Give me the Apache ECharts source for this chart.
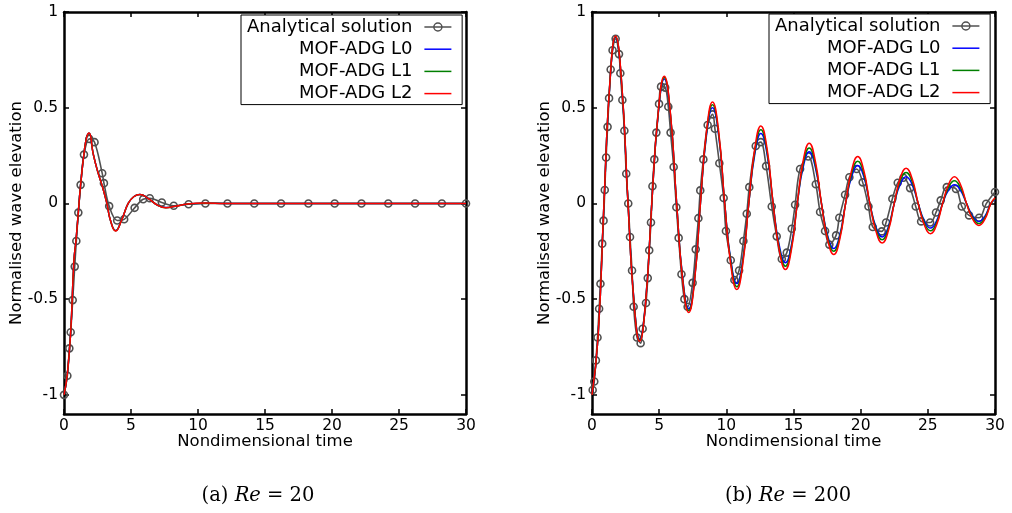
<!DOCTYPE html>
<html><head><meta charset="utf-8">
<script src="https://cdn.jsdelivr.net/npm/echarts@6/dist/echarts.min.js"></script>
<style>html,body{margin:0;padding:0;background:#fff;}#c{width:1012px;height:513px;}</style>
</head><body><div id="c"></div>
<script>
// ---------- data ----------
const seriesNames = ['Analytical solution', 'MOF-ADG L0', 'MOF-ADG L1', 'MOF-ADG L2'];
const xTickValues = [0, 5, 10, 15, 20, 25, 30];
const yTickValues = [-1, -0.5, 0, 0.5, 1];
const captions = [['(a) ', 'Re', ' = 20'], ['(b) ', 'Re', ' = 200']];

// Re = 20
const timeRe20Analytical = [0, 0.25, 0.40, 0.50, 0.65, 0.80, 0.92, 1.07, 1.24, 1.49, 1.89, 2.28, 2.85, 2.98, 3.37, 3.97, 4.49, 5.27, 5.91, 6.40, 7.3, 8.19, 9.3, 10.55, 12.2, 14.2, 16.2, 18.24, 20.2, 22.2, 24.2, 26.2, 28.2, 30];
const valRe20Analytical = [-1.0, -0.90, -0.757, -0.673, -0.505, -0.33, -0.196, -0.048, 0.097, 0.255, 0.337, 0.32, 0.158, 0.106, -0.014, -0.089, -0.083, -0.023, 0.022, 0.027, 0.005, -0.012, -0.004, 0, 0, 0, 0, 0, 0, 0, 0, 0, 0, 0];
const timeRe20Mof = [0, 0.25, 0.5, 0.74, 0.89, 1.02, 1.12, 1.24, 1.49, 1.69, 1.87, 2.18, 2.5, 2.88, 3.2, 3.47, 3.85, 4.29, 4.79, 5.2, 5.66, 6.3, 7.0, 7.6, 8.3, 9.2, 10.5, 12, 15, 20, 25, 30];
const valRe20L0 = [-1.0, -0.89, -0.67, -0.30, -0.196, -0.089, 0.0, 0.097, 0.259, 0.345, 0.366, 0.259, 0.17, 0.085, 0.0, -0.089, -0.142, -0.088, 0.0, 0.035, 0.046, 0.025, -0.01, -0.021, -0.015, -0.003, 0.001, 0, 0, 0, 0, 0];
const valRe20L1 = [-1.0, -0.89, -0.67, -0.30, -0.196, -0.089, 0.0, 0.097, 0.259, 0.345, 0.367, 0.259, 0.17, 0.085, 0.0, -0.089, -0.143, -0.089, 0.0, 0.035, 0.047, 0.025, -0.01, -0.022, -0.015, -0.003, 0.001, 0, 0, 0, 0, 0];
const valRe20L2 = [-1.0, -0.89, -0.67, -0.30, -0.196, -0.089, 0.0, 0.097, 0.259, 0.345, 0.368, 0.259, 0.17, 0.085, 0.0, -0.089, -0.144, -0.089, 0.0, 0.035, 0.047, 0.025, -0.01, -0.022, -0.015, -0.003, 0.002, 0, 0, 0, 0, 0];

// Re = 200
const timeRe200Analytical = [0.05, 0.17, 0.29, 0.41, 0.53, 0.63, 0.76, 0.86, 0.95, 1.05, 1.16, 1.27, 1.39, 1.53, 1.76, 2.01, 2.11, 2.26, 2.41, 2.55, 2.70, 2.83, 2.98, 3.10, 3.35, 3.62, 3.77, 4.02, 4.15, 4.26, 4.39, 4.50, 4.64, 4.79, 4.99, 5.14, 5.45, 5.68, 5.85, 6.08, 6.28, 6.45, 6.66, 6.88, 7.12, 7.49, 7.72, 7.92, 8.06, 8.29, 8.61, 8.98, 9.15, 9.48, 9.80, 9.97, 10.33, 10.6, 10.95, 11.27, 11.52, 11.71, 12.19, 12.56, 12.96, 13.38, 13.75, 14.13, 14.5, 14.87, 15.12, 15.49, 16.1, 16.66, 16.98, 17.35, 17.67, 18.17, 18.41, 18.84, 19.16, 19.7, 20.15, 20.58, 20.9, 21.57, 21.89, 22.36, 22.76, 23.18, 23.68, 24.1, 24.5, 25.17, 25.61, 25.96, 26.41, 27.1, 27.53, 28.07, 28.82, 29.34, 30.0];
const valRe200Analytical = [-0.975, -0.93, -0.82, -0.70, -0.55, -0.42, -0.21, -0.09, 0.07, 0.24, 0.40, 0.55, 0.70, 0.80, 0.86, 0.78, 0.68, 0.54, 0.38, 0.155, 0.0, -0.175, -0.35, -0.54, -0.70, -0.73, -0.655, -0.52, -0.39, -0.245, -0.10, 0.09, 0.23, 0.37, 0.52, 0.61, 0.605, 0.505, 0.37, 0.19, -0.02, -0.18, -0.37, -0.50, -0.54, -0.415, -0.24, -0.077, 0.068, 0.23, 0.41, 0.465, 0.39, 0.21, 0.028, -0.144, -0.297, -0.40, -0.35, -0.196, -0.054, 0.085, 0.30, 0.32, 0.195, -0.016, -0.172, -0.29, -0.257, -0.132, -0.007, 0.18, 0.245, 0.10, -0.045, -0.144, -0.215, -0.167, -0.075, 0.045, 0.137, 0.18, 0.11, -0.016, -0.123, -0.146, -0.10, 0.024, 0.108, 0.134, 0.08, -0.016, -0.094, -0.10, -0.047, 0.016, 0.085, 0.076, -0.016, -0.0625, -0.075, -0.002, 0.06];
const timeRe200Mof = [0, 0.45, 0.89, 1.32, 1.75, 2.22, 2.68, 3.12, 3.55, 4.0, 4.45, 4.92, 5.38, 5.84, 6.3, 6.75, 7.2, 7.64, 8.07, 8.52, 8.97, 9.43, 9.88, 10.33, 10.78, 11.22, 11.67, 12.12, 12.57, 13.03, 13.48, 13.94, 14.4, 14.84, 15.28, 15.72, 16.17, 16.62, 17.08, 17.54, 18.0, 18.44, 18.88, 19.33, 19.78, 20.23, 20.68, 21.14, 21.6, 22.05, 22.5, 22.94, 23.38, 23.83, 24.28, 24.74, 25.2, 25.65, 26.1, 26.54, 26.98, 27.43, 27.88, 28.34, 28.8, 29.25, 29.7, 30];
const valRe200L0 = [-1.0, -0.70, 0, 0.615, 0.868, 0.612, 0, -0.502, -0.71, -0.502, 0, 0.46, 0.65, 0.46, 0, -0.389, -0.55, -0.389, 0, 0.354, 0.50, 0.354, 0, -0.296, -0.418, -0.296, 0, 0.258, 0.365, 0.258, 0, -0.219, -0.31, -0.219, 0, 0.19, 0.27, 0.19, 0, -0.167, -0.236, -0.167, 0, 0.14, 0.198, 0.14, 0, -0.124, -0.175, -0.124, 0, 0.099, 0.14, 0.099, 0, -0.091, -0.129, -0.091, 0, 0.069, 0.097, 0.069, 0, -0.066, -0.094, -0.066, 0, 0.02];
const valRe200L1 = [-1.0, -0.70, 0, 0.618, 0.872, 0.615, 0, -0.505, -0.715, -0.505, 0, 0.465, 0.658, 0.465, 0, -0.395, -0.56, -0.395, 0, 0.364, 0.515, 0.364, 0, -0.307, -0.435, -0.307, 0, 0.272, 0.385, 0.272, 0, -0.232, -0.328, -0.232, 0, 0.205, 0.29, 0.205, 0, -0.177, -0.25, -0.177, 0, 0.156, 0.22, 0.156, 0, -0.134, -0.19, -0.134, 0, 0.115, 0.162, 0.115, 0, -0.101, -0.143, -0.101, 0, 0.083, 0.118, 0.083, 0, -0.074, -0.105, -0.074, 0, 0.025];
const valRe200L2 = [-1.0, -0.70, 0, 0.62, 0.875, 0.62, 0, -0.51, -0.72, -0.51, 0, 0.47, 0.665, 0.47, 0, -0.40, -0.57, -0.40, 0, 0.375, 0.53, 0.375, 0, -0.32, -0.45, -0.32, 0, 0.287, 0.405, 0.287, 0, -0.244, -0.345, -0.244, 0, 0.223, 0.315, 0.223, 0, -0.189, -0.267, -0.189, 0, 0.173, 0.245, 0.173, 0, -0.146, -0.207, -0.146, 0, 0.13, 0.184, 0.13, 0, -0.112, -0.158, -0.112, 0, 0.099, 0.14, 0.099, 0, -0.082, -0.115, -0.082, 0, 0.03];

// ---------- chart ----------
const FONT = 'DejaVu Sans';
const SERIF = 'DejaVu Serif';
const zip = (t, v) => t.map((x, i) => [x, v[i]]);
const colors = ['#505050', '#0000ff', '#007f00', '#ff0000'];
const grids = [
  { left: 64, top: 12, width: 402, height: 402 },
  { left: 592, top: 12, width: 403, height: 402 }
];
const legendPos = [{ left: 241, top: 15 }, { left: 769, top: 14 }];
const captionX = [258, 788];

const axisLine = { show: true, onZero: false, lineStyle: { color: '#000', width: 2.5 } };
const axisTick = { show: true, inside: true, length: 5, lineStyle: { color: '#000', width: 1.5 } };
const labelStyle = { color: '#000', fontFamily: FONT, fontSize: 15.5 };
const nameStyle = { color: '#000', fontFamily: FONT, fontSize: 16.5 };

const xAxis = [], yAxis = [], series = [], legend = [], graphic = [];
const datasets = [
  { ta: timeRe20Analytical, va: valRe20Analytical, tm: timeRe20Mof, vm: [valRe20L0, valRe20L1, valRe20L2] },
  { ta: timeRe200Analytical, va: valRe200Analytical, tm: timeRe200Mof, vm: [valRe200L0, valRe200L1, valRe200L2] }
];

grids.forEach((g, gi) => {
  xAxis.push({
    type: 'value', gridIndex: gi, position: 'bottom', min: 0, max: 30, interval: 5,
    axisLine, axisTick: Object.assign({}, axisTick),
    axisLabel: Object.assign({ margin: 4 }, labelStyle),
    splitLine: { show: false },
    name: 'Nondimensional time', nameLocation: 'middle', nameGap: 19, nameMoveOverlap: false, nameTextStyle: nameStyle
  });
  xAxis.push({
    type: 'value', gridIndex: gi, position: 'top', min: 0, max: 30, interval: 5,
    axisLine, axisTick: Object.assign({}, axisTick), axisLabel: { show: false }, splitLine: { show: false }
  });
  yAxis.push({
    type: 'value', gridIndex: gi, position: 'left', min: -1.1, max: 1,
    axisLine,
    axisTick: Object.assign({ customValues: yTickValues }, axisTick),
    axisLabel: Object.assign({ margin: 6, customValues: yTickValues }, labelStyle),
    splitLine: { show: false },
    name: 'Normalised wave elevation', nameLocation: 'middle', nameGap: 39, nameMoveOverlap: false, nameRotate: 90, nameTextStyle: nameStyle
  });
  yAxis.push({
    type: 'value', gridIndex: gi, position: 'right', min: -1.1, max: 1,
    axisLine,
    axisTick: Object.assign({ customValues: yTickValues }, axisTick),
    axisLabel: { show: false }, splitLine: { show: false }
  });
  const d = datasets[gi];
  series.push({
    name: seriesNames[0], type: 'line', xAxisIndex: gi * 2, yAxisIndex: gi * 2,
    data: zip(d.ta, d.va), smooth: 0.35, symbol: 'circle', symbolSize: 7, showSymbol: true,
    lineStyle: { color: colors[0], width: 1.6 },
    itemStyle: { color: 'rgba(0,0,0,0)', borderColor: colors[0], borderWidth: 1.6 },
    emphasis: { disabled: true }, z: 2
  });
  for (let k = 0; k < 3; k++) {
    series.push({
      name: seriesNames[k + 1], type: 'line', xAxisIndex: gi * 2, yAxisIndex: gi * 2,
      data: zip(d.tm, d.vm[k]), smooth: 0.5, symbol: 'none',
      lineStyle: { color: colors[k + 1], width: 1.5 },
      itemStyle: { color: colors[k + 1] },
      emphasis: { disabled: true }, z: 3 + k
    });
  }
  legend.push({
    orient: 'vertical', align: 'right', left: legendPos[gi].left, top: legendPos[gi].top,
    padding: [2, 10, 1, 6], itemGap: 2.2, itemWidth: 27, itemHeight: 10,
    backgroundColor: '#fff', borderColor: '#000', borderWidth: 1, borderRadius: 0,
    selectedMode: false,
    lineStyle: { width: 1.5 },
    itemStyle: { borderWidth: 1.5 },
    textStyle: { fontSize: 18, color: '#000', fontFamily: FONT, lineHeight: 20, padding: [0, 7, 0, 0] },
    data: seriesNames.map((n, i) => i === 0 ? { name: n } : { name: n, itemStyle: { opacity: 0 } })
  });
  const c = captions[gi];
  graphic.push({
    type: 'text', x: captionX[gi], y: 496,
    style: {
      text: '{n|' + c[0] + '}{i|' + c[1] + '}{n|' + c[2] + '}',
      align: 'center', verticalAlign: 'middle',
      rich: {
        n: { fontFamily: SERIF, fontSize: 19.5, fill: '#000', color: '#000' },
        i: { fontFamily: SERIF, fontStyle: 'italic', fontSize: 19.5, fill: '#000', color: '#000' }
      }
    }
  });
});

const chart = echarts.init(document.getElementById('c'), null, { renderer: 'canvas' });
chart.setOption({
  animation: false,
  backgroundColor: '#fff',
  grid: grids.map(g => Object.assign({ outerBoundsMode: 'none', containLabel: false }, g)),
  xAxis, yAxis, series, legend, graphic
});
</script></body></html>
